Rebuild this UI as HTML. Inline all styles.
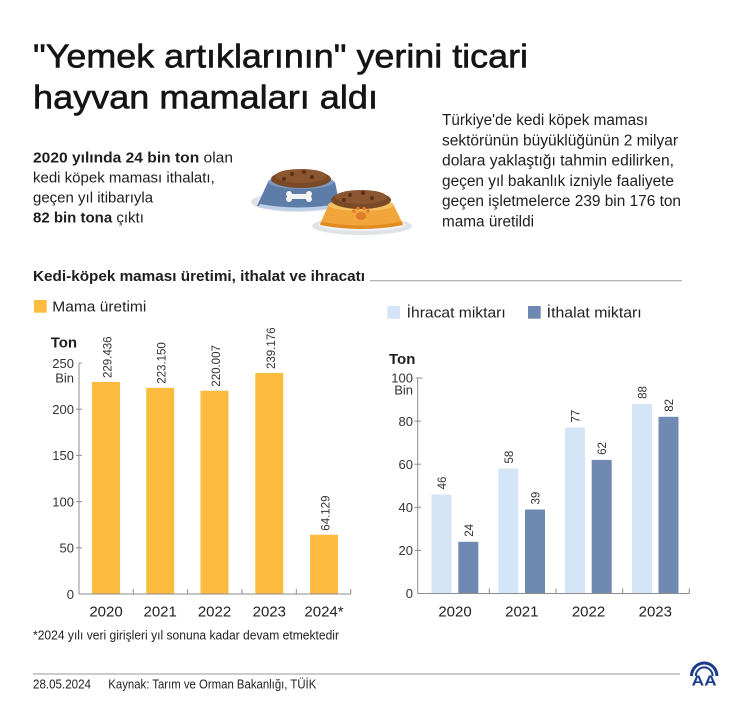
<!DOCTYPE html>
<html><head><meta charset="utf-8"><style>
html,body{margin:0;padding:0;background:#fff;}
svg{display:block;}
text{font-family:"Liberation Sans",Arial,sans-serif;}
</style></head><body>
<svg width="750" height="717" viewBox="0 0 750 717" xmlns="http://www.w3.org/2000/svg">
<rect width="750" height="717" fill="#fff"/>
<!-- Title -->
<text x="33" y="67.3" font-size="33.5" fill="#141414" stroke="#141414" stroke-width="0.6" textLength="495" lengthAdjust="spacingAndGlyphs">"Yemek artıklarının" yerini ticari</text>
<text x="33" y="108.3" font-size="33.5" fill="#141414" stroke="#141414" stroke-width="0.6" textLength="345" lengthAdjust="spacingAndGlyphs">hayvan mamaları aldı</text>

<!-- Left paragraph -->
<g font-size="15" fill="#1e1e1e">
<text x="33" y="162.7" textLength="200" lengthAdjust="spacingAndGlyphs"><tspan font-weight="bold">2020 yılında 24 bin ton</tspan> olan</text>
<text x="33" y="182.7">kedi köpek maması ithalatı,</text>
<text x="33" y="202.7">geçen yıl itibarıyla</text>
<text x="33" y="222.7"><tspan font-weight="bold">82 bin tona</tspan> çıktı</text>
</g>

<!-- Right paragraph -->
<g font-size="15.4" fill="#1e1e1e">
<text x="442" y="125" textLength="206" lengthAdjust="spacingAndGlyphs">Türkiye'de kedi köpek maması</text>
<text x="442" y="145.3" textLength="236" lengthAdjust="spacingAndGlyphs">sektörünün büyüklüğünün 2 milyar</text>
<text x="442" y="165.6" textLength="232" lengthAdjust="spacingAndGlyphs">dolara yaklaştığı tahmin edilirken,</text>
<text x="442" y="185.8" textLength="232" lengthAdjust="spacingAndGlyphs">geçen yıl bakanlık izniyle faaliyete</text>
<text x="442" y="206" textLength="239" lengthAdjust="spacingAndGlyphs">geçen işletmelerce 239 bin 176 ton</text>
<text x="442" y="226.3" textLength="92" lengthAdjust="spacingAndGlyphs">mama üretildi</text>
</g>

<!-- Bowls -->
<g>
  <!-- blue bowl -->
  <ellipse cx="297" cy="202" rx="46" ry="10" fill="#dfe3e8"/>
  <ellipse cx="297" cy="201" rx="40" ry="7" fill="#eef1f5"/>
  <path d="M257,206 L268,182 L335,182 L340,206 Q298,214 257,206 Z" fill="#5d7ca8"/>
  <path d="M260,204 Q298,211 338,204 L339,207 Q298,215 258,207 Z" fill="#bcd0ea"/>
  <ellipse cx="301" cy="182" rx="33" ry="7" fill="#7d98c0"/>
  <ellipse cx="301" cy="179" rx="30" ry="9" fill="#7a4a26"/>
  <ellipse cx="301" cy="176" rx="26" ry="7" fill="#8b5630"/>
  <circle cx="292" cy="174" r="2" fill="#5a321a"/><circle cx="304" cy="172" r="2" fill="#5a321a"/><circle cx="312" cy="177" r="2" fill="#5a321a"/><circle cx="284" cy="179" r="2" fill="#5a321a"/>
  <!-- bone -->
  <rect x="290" y="194" width="18" height="5" rx="2" fill="#f4f4f4"/>
  <circle cx="289" cy="194" r="3" fill="#f4f4f4"/><circle cx="289" cy="199" r="3" fill="#f4f4f4"/>
  <circle cx="309" cy="194" r="3" fill="#f4f4f4"/><circle cx="309" cy="199" r="3" fill="#f4f4f4"/>
  <!-- orange bowl -->
  <ellipse cx="362" cy="226" rx="50" ry="9" fill="#dfe3e8"/>
  <ellipse cx="362" cy="225" rx="44" ry="6" fill="#eef1f5"/>
  <path d="M320,224 L329,204 L393,204 L403,224 Q362,232 320,224 Z" fill="#f2a53a"/>
  <path d="M322,222 Q362,229 401,222 L403,225 Q362,233 320,225 Z" fill="#e08a20"/>
  <ellipse cx="361" cy="205" rx="33" ry="6" fill="#f7bf5e"/>
  <ellipse cx="361" cy="200" rx="30" ry="9" fill="#7a4a26"/>
  <ellipse cx="361" cy="197" rx="26" ry="7" fill="#8b5630"/>
  <circle cx="350" cy="195" r="2" fill="#5a321a"/><circle cx="363" cy="193" r="2" fill="#5a321a"/><circle cx="372" cy="198" r="2" fill="#5a321a"/><circle cx="344" cy="200" r="2" fill="#5a321a"/>
  <!-- paw -->
  <ellipse cx="361" cy="216" rx="5" ry="4" fill="#e27a2e"/>
  <circle cx="354" cy="211" r="1.8" fill="#e27a2e"/><circle cx="358" cy="208.5" r="1.8" fill="#e27a2e"/><circle cx="364" cy="208.5" r="1.8" fill="#e27a2e"/><circle cx="368" cy="211" r="1.8" fill="#e27a2e"/>
</g>

<!-- Section title -->
<text x="33" y="281" font-size="14.5" font-weight="bold" fill="#1e1e1e" textLength="332" lengthAdjust="spacingAndGlyphs">Kedi-köpek maması üretimi, ithalat ve ihracatı</text>
<line x1="370" y1="280.7" x2="682" y2="280.7" stroke="#9a9a9a" stroke-width="1"/>

<!-- Left legend -->
<rect x="34" y="300" width="12.7" height="12.7" fill="#fdbb3f"/>
<text x="52.3" y="311.7" font-size="15" fill="#222" textLength="94" lengthAdjust="spacingAndGlyphs">Mama üretimi</text>

<!-- Left chart -->
<text x="50.7" y="347.3" font-size="15" font-weight="bold" fill="#1e1e1e">Ton</text>
<g font-size="13" fill="#333" text-anchor="end">
<text x="74" y="368">250</text>
<text x="74" y="382.5">Bin</text>
<text x="74" y="414">200</text>
<text x="74" y="460.2">150</text>
<text x="74" y="506.4">100</text>
<text x="74" y="552.6">50</text>
<text x="74" y="598.8">0</text>
</g>
<g fill="#fdbb3f">
<rect x="92" y="382" width="28" height="212"/>
<rect x="146.2" y="387.8" width="28" height="206.2"/>
<rect x="200.5" y="390.7" width="28" height="203.3"/>
<rect x="255.3" y="373" width="28" height="221"/>
<rect x="310" y="534.7" width="28" height="59.3"/>
</g>
<g stroke="#8c8c8c" stroke-width="1" fill="none">
<line x1="79" y1="363" x2="79" y2="594"/>
<line x1="79" y1="594" x2="351" y2="594"/>
<line x1="79" y1="363" x2="82" y2="363"/>
<line x1="76" y1="409.2" x2="82" y2="409.2"/>
<line x1="76" y1="455.4" x2="82" y2="455.4"/>
<line x1="76" y1="501.6" x2="82" y2="501.6"/>
<line x1="76" y1="547.8" x2="82" y2="547.8"/>
<line x1="133.3" y1="589" x2="133.3" y2="594"/>
<line x1="187.7" y1="589" x2="187.7" y2="594"/>
<line x1="242" y1="589" x2="242" y2="594"/>
<line x1="296.3" y1="589" x2="296.3" y2="594"/>
<line x1="350.7" y1="589" x2="350.7" y2="594"/>
</g>
<g font-size="11.5" fill="#333">
<text transform="translate(111.5,378) rotate(-90)">229.436</text>
<text transform="translate(165.7,383.8) rotate(-90)">223.150</text>
<text transform="translate(220,386.7) rotate(-90)">220.007</text>
<text transform="translate(274.8,369) rotate(-90)">239.176</text>
<text transform="translate(329.5,530.7) rotate(-90)">64.129</text>
</g>
<g font-size="15" fill="#222" text-anchor="middle">
<text x="106" y="616.7">2020</text>
<text x="160.2" y="616.7">2021</text>
<text x="214.5" y="616.7">2022</text>
<text x="269.3" y="616.7">2023</text>
<text x="324" y="616.7">2024*</text>
</g>

<!-- Right legend -->
<rect x="387.3" y="306" width="12.7" height="12.7" fill="#d5e5f8"/>
<text x="406.7" y="317.3" font-size="15" fill="#222" textLength="99" lengthAdjust="spacingAndGlyphs">İhracat miktarı</text>
<rect x="528" y="306" width="12.7" height="12.7" fill="#7089b2"/>
<text x="546.7" y="317.3" font-size="15" fill="#222" textLength="95" lengthAdjust="spacingAndGlyphs">İthalat miktarı</text>

<!-- Right chart -->
<text x="389" y="364" font-size="15" font-weight="bold" fill="#1e1e1e">Ton</text>
<g font-size="13" fill="#333" text-anchor="end">
<text x="413" y="382.7">100</text>
<text x="413" y="394.5">Bin</text>
<text x="413" y="425.8">80</text>
<text x="413" y="468.9">60</text>
<text x="413" y="512">40</text>
<text x="413" y="555.1">20</text>
<text x="413" y="598.2">0</text>
</g>
<g fill="#d5e5f8">
<rect x="431.5" y="494.4" width="20" height="99.1"/>
<rect x="498.3" y="468.5" width="20" height="125"/>
<rect x="565" y="427.6" width="20" height="165.9"/>
<rect x="632" y="403.9" width="20" height="189.6"/>
</g>
<g fill="#7089b2">
<rect x="458.3" y="541.8" width="20" height="51.7"/>
<rect x="525" y="509.5" width="20" height="84"/>
<rect x="591.7" y="459.9" width="20" height="133.6"/>
<rect x="658.5" y="416.8" width="20" height="176.7"/>
</g>
<g stroke="#8c8c8c" stroke-width="1" fill="none">
<line x1="417.7" y1="378" x2="417.7" y2="593.5"/>
<line x1="417.7" y1="593.5" x2="689.3" y2="593.5"/>
<line x1="416" y1="378" x2="422.5" y2="378"/>
<line x1="414.5" y1="421.1" x2="421" y2="421.1"/>
<line x1="414.5" y1="464.2" x2="421" y2="464.2"/>
<line x1="414.5" y1="507.3" x2="421" y2="507.3"/>
<line x1="414.5" y1="550.4" x2="421" y2="550.4"/>
<line x1="489.3" y1="588.5" x2="489.3" y2="593.5"/>
<line x1="556" y1="588.5" x2="556" y2="593.5"/>
<line x1="622.7" y1="588.5" x2="622.7" y2="593.5"/>
<line x1="689.3" y1="588.5" x2="689.3" y2="593.5"/>
</g>
<g font-size="11.5" fill="#333">
<text transform="translate(446,489.4) rotate(-90)">46</text>
<text transform="translate(512.8,463.5) rotate(-90)">58</text>
<text transform="translate(579.5,422.6) rotate(-90)">77</text>
<text transform="translate(646.5,398.9) rotate(-90)">88</text>
<text transform="translate(472.8,536.8) rotate(-90)">24</text>
<text transform="translate(539.5,504.5) rotate(-90)">39</text>
<text transform="translate(606.2,454.9) rotate(-90)">62</text>
<text transform="translate(673,411.8) rotate(-90)">82</text>
</g>
<g font-size="15" fill="#222" text-anchor="middle">
<text x="455" y="616.7">2020</text>
<text x="521.8" y="616.7">2021</text>
<text x="588.5" y="616.7">2022</text>
<text x="655.3" y="616.7">2023</text>
</g>

<!-- Footnote -->
<text x="33" y="639.3" font-size="12.5" fill="#222" textLength="306" lengthAdjust="spacingAndGlyphs">*2024 yılı veri girişleri yıl sonuna kadar devam etmektedir</text>
<line x1="33" y1="674" x2="680" y2="674" stroke="#9a9a9a" stroke-width="1"/>
<text x="33" y="688.3" font-size="12.5" fill="#222" textLength="58" lengthAdjust="spacingAndGlyphs">28.05.2024</text>
<text x="108.3" y="688.3" font-size="12.5" fill="#222" textLength="208" lengthAdjust="spacingAndGlyphs">Kaynak: Tarım ve Orman Bakanlığı, TÜİK</text>

<!-- AA logo -->
<g fill="none" stroke="#1b3b8c">
<path d="M691.5,676 A12.7,13 0 0 1 716.9,676" stroke-width="3"/>
<path d="M695.8,676 A8.4,8.6 0 0 1 712.6,676" stroke-width="2"/>
</g>
<text x="704.2" y="685.5" font-size="15" font-weight="bold" fill="#1b3b8c" text-anchor="middle" textLength="25" lengthAdjust="spacingAndGlyphs">AA</text>
</svg>
</body></html>
